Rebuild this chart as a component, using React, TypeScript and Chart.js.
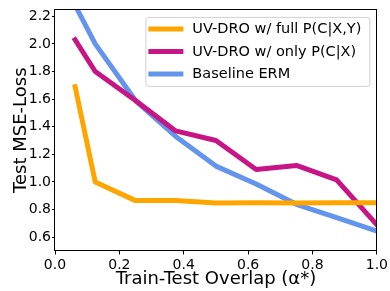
import React, { useEffect, useRef } from "react";
import { Chart, registerables } from "chart.js";

Chart.register(...registerables);

const overlap = [0.0625, 0.125, 0.25, 0.375, 0.5, 0.625, 0.75, 0.875, 1.0];
const fullPC = [1.69, 1.0, 0.865, 0.865, 0.848, 0.85, 0.848, 0.85, 0.85];
const onlyPC = [2.03, 1.8, 1.59, 1.37, 1.3, 1.09, 1.12, 1.015, 0.69];
const baselineERM = [2.28, 2.0, 1.59, 1.33, 1.115, 0.985, 0.838, 0.742, 0.645];
const seriesLabels = ["UV-DRO w/ full P(C|X,Y)", "UV-DRO w/ only P(C|X)", "Baseline ERM"];
const seriesColors = ["#FFA500", "#C71585", "#6495ED"];
const xTicks = [0, 0.2, 0.4, 0.6, 0.8, 1.0];
const yTicks = [0.6, 0.8, 1.0, 1.2, 1.4, 1.6, 1.8, 2.0, 2.2];
const xTitle = "Train-Test Overlap (α*)";
const yTitle = "Test MSE-Loss";

const FONT = "'DejaVu Sans', sans-serif";

const framePlugin = {
  id: "frameAndLegend",
  afterDatasetsDraw(chart: any) {
    const { ctx, chartArea: a } = chart;
    ctx.save();
    // spines
    ctx.strokeStyle = "#000";
    ctx.lineWidth = 1;
    const l = Math.round(a.left) - 0.5;
    const r = Math.round(a.right) - 0.5;
    const t = Math.round(a.top) + 0.5;
    const b = Math.round(a.bottom) - 0.5;
    ctx.strokeRect(l, t, r - l, b - t);

    // legend
    const bx = a.right - 231;
    const by = a.top + 8;
    const bw = 224;
    const bh = 69;
    const rad = 3;
    ctx.beginPath();
    ctx.moveTo(bx + rad, by);
    ctx.lineTo(bx + bw - rad, by);
    ctx.arcTo(bx + bw, by, bx + bw, by + rad, rad);
    ctx.lineTo(bx + bw, by + bh - rad);
    ctx.arcTo(bx + bw, by + bh, bx + bw - rad, by + bh, rad);
    ctx.lineTo(bx + rad, by + bh);
    ctx.arcTo(bx, by + bh, bx, by + bh - rad, rad);
    ctx.lineTo(bx, by + rad);
    ctx.arcTo(bx, by, bx + rad, by, rad);
    ctx.closePath();
    ctx.fillStyle = "rgba(255,255,255,0.8)";
    ctx.fill();
    ctx.strokeStyle = "rgba(204,204,204,0.9)";
    ctx.lineWidth = 1;
    ctx.stroke();

    const ds = chart.data.datasets;
    ctx.font = `14.5px ${FONT}`;
    ctx.textBaseline = "middle";
    ctx.textAlign = "left";
    ds.forEach((d: any, i: number) => {
      const y = by + 11.5 + i * 22.5;
      ctx.strokeStyle = d.borderColor;
      ctx.lineWidth = 5;
      ctx.lineCap = "butt";
      ctx.beginPath();
      ctx.moveTo(bx + 2.5, y);
      ctx.lineTo(bx + 37.5, y);
      ctx.stroke();
      ctx.fillStyle = "#000";
      ctx.fillText(d.label, bx + 46.5, y + 0.5);
    });
    ctx.restore();
  },
};

export default function App() {
  const ref = useRef<HTMLCanvasElement | null>(null);

  useEffect(() => {
    document.body.style.margin = "0";
    const canvas = ref.current;
    if (!canvas) return;
    const datasets = [fullPC, onlyPC, baselineERM].map((vals, i) => ({
      label: seriesLabels[i],
      data: overlap.map((x, j) => ({ x, y: vals[j] })),
      borderColor: seriesColors[i],
      backgroundColor: seriesColors[i],
      borderWidth: 5,
      pointRadius: 0,
      tension: 0,
      fill: false,
      clip: 0,
      borderJoinStyle: "round" as const,
      borderCapStyle: "square" as const,
    }));

    const chart = new Chart(canvas, {
      type: "line",
      data: { datasets },
      plugins: [framePlugin],
      options: {
        animation: false,
        responsive: false,
        devicePixelRatio: 1,
        layout: { padding: { left: 0, top: 7, right: 13, bottom: 0 } },
        plugins: { legend: { display: false }, tooltip: { enabled: false } },
        scales: {
          x: {
            type: "linear",
            min: 0,
            max: 1,
            afterBuildTicks: (s: any) => {
              s.ticks = xTicks.map((v) => ({ value: v }));
            },
            afterFit: (s: any) => {
              s.height = 40;
            },
            ticks: {
              color: "#000",
              font: { family: FONT, size: 14 },
              padding: 2,
              maxRotation: 0,
              autoSkip: false,
              callback: (v: any) => Number(v).toFixed(1),
            },
            grid: { display: true, drawOnChartArea: false, drawTicks: true, tickLength: 3.5, color: "#000" },
            border: { display: false },
            title: {
              display: true,
              text: xTitle,
              color: "#000",
              font: { family: FONT, size: 18 },
              padding: { top: 0, bottom: 1 },
            },
          },
          y: {
            type: "linear",
            min: 0.5,
            max: 2.25,
            afterBuildTicks: (s: any) => {
              s.ticks = yTicks.map((v) => ({ value: v }));
            },
            afterFit: (s: any) => {
              s.width = 55;
            },
            ticks: {
              color: "#000",
              font: { family: FONT, size: 14 },
              padding: 1,
              autoSkip: false,
              callback: (v: any) => Number(v).toFixed(1),
            },
            grid: { display: true, drawOnChartArea: false, drawTicks: true, tickLength: 3, color: "#000" },
            border: { display: false },
            title: {
              display: true,
              text: yTitle,
              color: "#000",
              font: { family: FONT, size: 18 },
              padding: { top: 10.5, bottom: 0 },
            },
          },
        },
      },
    });
    return () => chart.destroy();
  }, []);

  return (
    <div style={{ width: 390, height: 291 }}>
      <canvas ref={ref} width={390} height={291} />
    </div>
  );
}
